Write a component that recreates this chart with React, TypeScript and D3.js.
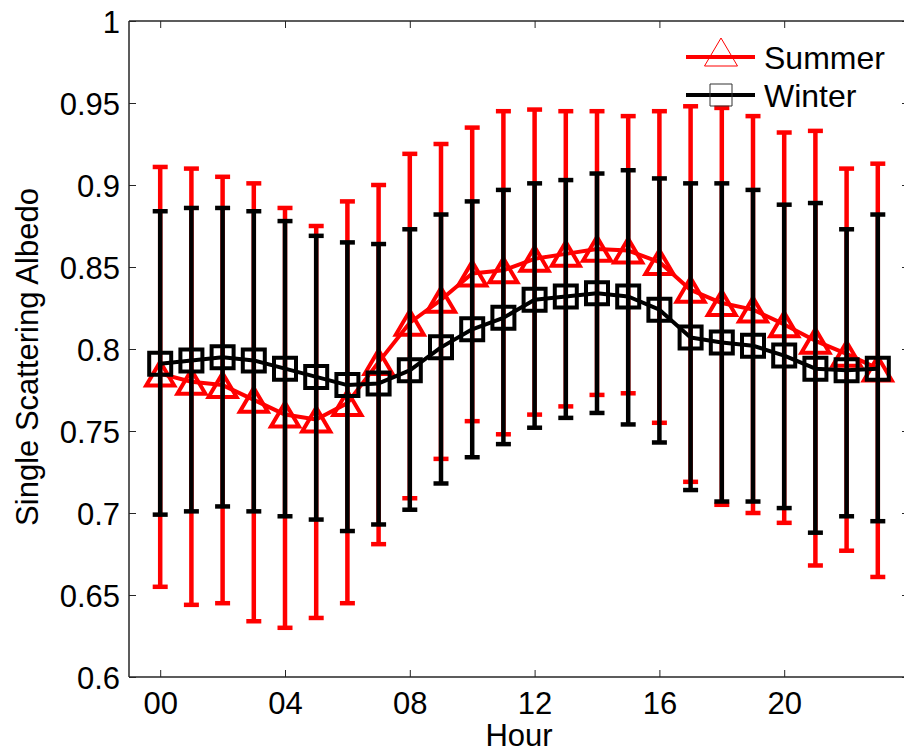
import * as d3 from "d3";
import { useEffect, useRef } from "react";

// hours of the day
const hours = [0, 1, 2, 3, 4, 5, 6, 7, 8, 9, 10, 11, 12, 13, 14, 15, 16, 17, 18, 19, 20, 21, 22, 23];

// summer albedo (mean, upper and lower end of error bars)
const summerMean = [0.785, 0.78, 0.778, 0.769, 0.76, 0.757, 0.767, 0.792, 0.816, 0.83, 0.846, 0.848, 0.855, 0.858, 0.861, 0.86, 0.853, 0.836, 0.828, 0.824, 0.815, 0.805, 0.797, 0.788];
const summerUpper = [0.911, 0.91, 0.905, 0.901, 0.886, 0.875, 0.89, 0.9, 0.919, 0.925, 0.935, 0.945, 0.946, 0.945, 0.945, 0.942, 0.945, 0.948, 0.947, 0.942, 0.932, 0.933, 0.91, 0.913];
const summerLower = [0.655, 0.644, 0.645, 0.634, 0.63, 0.636, 0.645, 0.681, 0.709, 0.733, 0.756, 0.748, 0.76, 0.765, 0.772, 0.773, 0.755, 0.719, 0.705, 0.7, 0.694, 0.668, 0.677, 0.661];

// winter albedo
const winterMean = [0.791, 0.793, 0.795, 0.793, 0.788, 0.783, 0.778, 0.779, 0.787, 0.801, 0.812, 0.819, 0.83, 0.832, 0.834, 0.832, 0.824, 0.807, 0.804, 0.802, 0.796, 0.788, 0.787, 0.788];
const winterUpper = [0.884, 0.886, 0.886, 0.884, 0.878, 0.869, 0.865, 0.864, 0.873, 0.882, 0.89, 0.897, 0.901, 0.903, 0.907, 0.909, 0.904, 0.901, 0.901, 0.897, 0.888, 0.889, 0.873, 0.882];
const winterLower = [0.699, 0.701, 0.704, 0.701, 0.698, 0.696, 0.689, 0.693, 0.702, 0.718, 0.734, 0.742, 0.752, 0.758, 0.761, 0.754, 0.743, 0.714, 0.707, 0.707, 0.703, 0.688, 0.698, 0.695];

// tick labels
const xTicks = [0, 4, 8, 12, 16, 20];
const xTickLabels = ["00", "04", "08", "12", "16", "20"];
const yTicks = [0.6, 0.65, 0.7, 0.75, 0.8, 0.85, 0.9, 0.95, 1];
const yTickLabels = ["0.6", "0.65", "0.7", "0.75", "0.8", "0.85", "0.9", "0.95", "1"];

const seriesNames = ["Summer", "Winter"];

const FONT = "'Liberation Sans', Arial, sans-serif";

const App = () => {
  const svgRef = useRef<SVGSVGElement>(null);

  useEffect(() => {
    if (!svgRef.current) return;
    const width = 904;
    const height = 754;
    const margin = { top: 21, left: 129, right: -5, bottom: 77 };

    const svg = d3.select(svgRef.current).attr("width", width).attr("height", height);
    svg.selectAll("*").remove();

    const x = d3.scaleLinear().domain([-1, 24]).range([margin.left, width - margin.right]);
    const y = d3.scaleLinear().domain([0.6, 1]).range([height - margin.bottom, margin.top]);

    const g = svg.append("g");

    // series definitions
    const series = [
      { name: seriesNames[0], mean: summerMean, up: summerUpper, lo: summerLower, color: "#ff0000", marker: "tri" },
      { name: seriesNames[1], mean: winterMean, up: winterUpper, lo: winterLower, color: "#000000", marker: "sq" },
    ];

    const triPath = (s: number) => `M0,${-s * 0.85} L${s},${s * 0.85} L${-s},${s * 0.85} Z`;

    series.forEach((s) => {
      const sg = g.append("g");
      // error bars
      hours.forEach((h, i) => {
        const cx = x(h);
        sg.append("line")
          .attr("x1", cx).attr("x2", cx)
          .attr("y1", y(s.lo[i])).attr("y2", y(s.up[i]))
          .attr("stroke", s.color).attr("stroke-width", 4.5);
        [s.lo[i], s.up[i]].forEach((v) => {
          sg.append("line")
            .attr("x1", cx - 7.5).attr("x2", cx + 7.5)
            .attr("y1", y(v)).attr("y2", y(v))
            .attr("stroke", s.color).attr("stroke-width", 4.5);
        });
      });
      // mean line
      const line = d3.line<number>().x((_, i) => x(hours[i])).y((d) => y(d));
      sg.append("path")
        .attr("d", line(s.mean))
        .attr("fill", "none")
        .attr("stroke", s.color)
        .attr("stroke-width", 4)
        .attr("stroke-linejoin", "round");
      // markers
      hours.forEach((h, i) => {
        const m = sg.append("path")
          .attr("transform", `translate(${x(h)},${y(s.mean[i])})`)
          .attr("fill", "none")
          .attr("stroke", s.color)
          .attr("stroke-width", 4);
        if (s.marker === "tri") m.attr("d", triPath(14));
        else m.attr("d", "M-11,-11 H11 V11 H-11 Z");
      });
    });

    // axes box
    const axisColor = "#262626";
    const x0 = x(-1), x1 = x(24), y0 = y(0.6), y1 = y(1);
    g.append("line").attr("x1", x0).attr("x2", x1).attr("y1", y0).attr("y2", y0).attr("stroke", axisColor).attr("stroke-width", 1.5);
    g.append("line").attr("x1", x0).attr("x2", x1).attr("y1", y1).attr("y2", y1).attr("stroke", axisColor).attr("stroke-width", 1.5);
    g.append("line").attr("x1", x0).attr("x2", x0).attr("y1", y0).attr("y2", y1).attr("stroke", axisColor).attr("stroke-width", 1.5);
    g.append("line").attr("x1", x1).attr("x2", x1).attr("y1", y0).attr("y2", y1).attr("stroke", axisColor).attr("stroke-width", 1.5);

    // left axis
    const yAxis = g.append("g")
      .attr("transform", `translate(${x0},0)`)
      .call(d3.axisLeft(y).tickValues(yTicks).tickFormat((_, i) => yTickLabels[i]).tickSizeInner(-7).tickSizeOuter(0).tickPadding(9));
    yAxis.select(".domain").remove();
    yAxis.selectAll(".tick line").attr("stroke", axisColor);
    yAxis.selectAll(".tick text").attr("font-size", 31).attr("font-family", FONT).attr("fill", "#000").attr("dy", "0.37em");

    // right ticks
    g.append("g")
      .attr("transform", `translate(${x1},0)`)
      .call(d3.axisRight(y).tickValues(yTicks).tickFormat(() => "").tickSizeInner(-7).tickSizeOuter(0))
      .call((a) => a.select(".domain").remove())
      .selectAll(".tick line").attr("stroke", axisColor);

    // bottom axis
    const xAxis = g.append("g")
      .attr("transform", `translate(0,${y0})`)
      .call(d3.axisBottom(x).tickValues(xTicks).tickFormat((_, i) => xTickLabels[i]).tickSizeInner(-7).tickSizeOuter(0).tickPadding(15));
    xAxis.select(".domain").remove();
    xAxis.selectAll(".tick line").attr("stroke", axisColor);
    xAxis.selectAll(".tick text").attr("font-size", 31).attr("font-family", FONT).attr("fill", "#000");

    // top ticks
    g.append("g")
      .attr("transform", `translate(0,${y1})`)
      .call(d3.axisTop(x).tickValues(xTicks).tickFormat(() => "").tickSizeInner(-7).tickSizeOuter(0))
      .call((a) => a.select(".domain").remove())
      .selectAll(".tick line").attr("stroke", axisColor);

    // axis labels
    svg.append("text")
      .attr("x", (x0 + x1) / 2)
      .attr("y", 746)
      .attr("text-anchor", "middle")
      .attr("font-size", 31)
      .attr("font-family", FONT)
      .text("Hour");

    svg.append("text")
      .attr("transform", `translate(38,${(y0 + y1) / 2 + 8}) rotate(-90)`)
      .attr("text-anchor", "middle")
      .attr("font-size", 31)
      .attr("font-family", FONT)
      .text("Single Scattering Albedo");

    // legend
    const legend = svg.append("g");
    const legendRows = [
      { yy: 57, color: "#ff0000", marker: "tri" },
      { yy: 95, color: "#000000", marker: "sq" },
    ];
    legendRows.forEach((r, i) => {
      legend.append("line")
        .attr("x1", 686).attr("x2", 755)
        .attr("y1", r.yy).attr("y2", r.yy)
        .attr("stroke", r.color).attr("stroke-width", 4);
      const m = legend.append("path")
        .attr("transform", `translate(721,${r.yy})`)
        .attr("fill", "none")
        .attr("stroke-width", 1);
      if (r.marker === "tri") m.attr("d", "M0,-19 L16.5,9 L-16.5,9 Z").attr("stroke", "#ff0000");
      else m.attr("d", "M-11,-11 H11 V11 H-11 Z").attr("stroke", "#333");
      legend.append("text")
        .attr("x", 764)
        .attr("y", r.yy + 11.5)
        .attr("font-size", 32)
        .attr("font-family", FONT)
        .text(seriesNames[i]);
    });
  }, []);

  return (
    <svg ref={svgRef} style={{ position: "absolute", left: 0, top: 0, background: "#fff" }}></svg>
  );
};

export default App;
